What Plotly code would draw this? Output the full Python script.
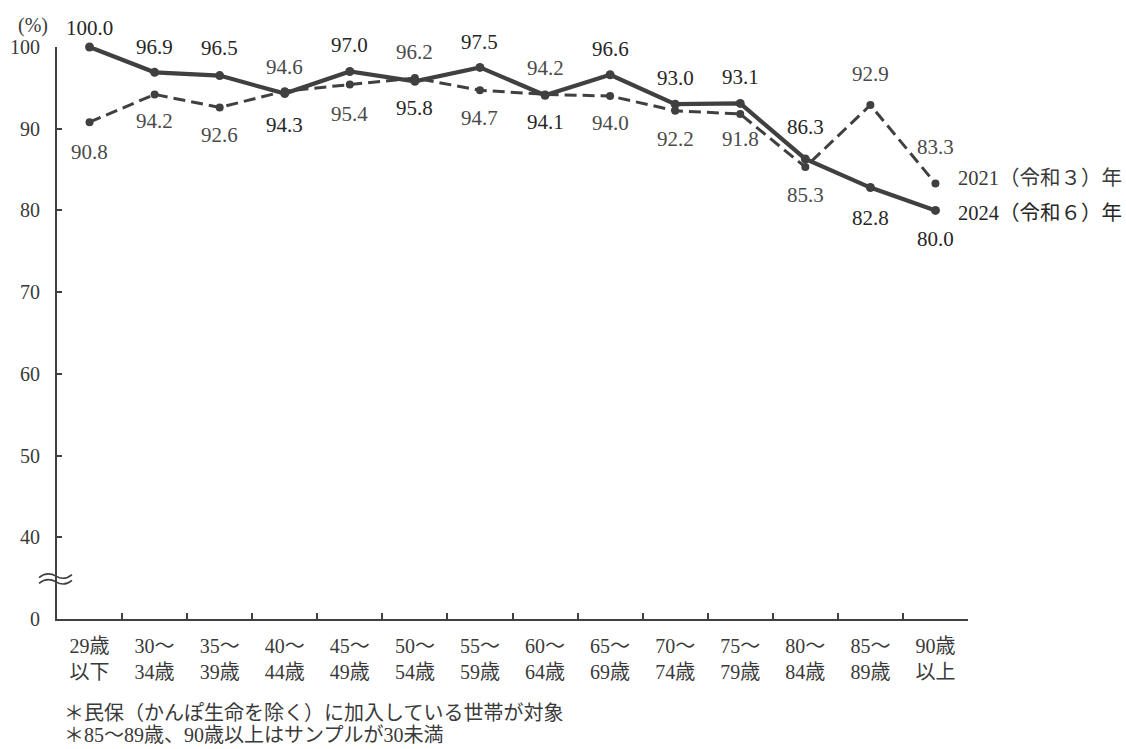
import plotly.graph_objects as go

# Age groups (x categories) and rates (%) for the two survey years
age_groups = [
    "29歳<br>以下", "30～<br>34歳", "35～<br>39歳", "40～<br>44歳", "45～<br>49歳",
    "50～<br>54歳", "55～<br>59歳", "60～<br>64歳", "65～<br>69歳", "70～<br>74歳",
    "75～<br>79歳", "80～<br>84歳", "85～<br>89歳", "90歳<br>以上",
]
rate_2024 = [100.0, 96.9, 96.5, 94.3, 97.0, 95.8, 97.5, 94.1, 96.6, 93.0, 93.1, 86.3, 82.8, 80.0]
rate_2021 = [90.8, 94.2, 92.6, 94.6, 95.4, 96.2, 94.7, 94.2, 94.0, 92.2, 91.8, 85.3, 92.9, 83.3]

name_2024 = "2024（令和６）年"
name_2021 = "2021（令和３）年"

# The y axis is broken: the lowest tick (drawn at 30) is labelled 0
y_tickvals = [30, 40, 50, 60, 70, 80, 90, 100]
y_ticktext = ["0", "40", "50", "60", "70", "80", "90", "100"]

notes = [
    "＊民保（かんぽ生命を除く）に加入している世帯が対象",
    "＊85～89歳、90歳以上はサンプルが30未満",
]

# label placement: vertical offset in px (positive = above the point)
off_2024 = [19, 25, 28, -31, 27, -27, 25, -27, 26, 26, 26, 32, -30, -29]
off_2021 = [-30, -27, -28, 24, -29, 26, -28, 26, -27, -28, -25, -28, 31, 36]

FONT = "Liberation Serif, Noto Sans CJK JP, serif"
INK = "#404040"
TXT = "#3a3a3a"

fig = go.Figure()

fig.add_trace(go.Scatter(
    x=age_groups, y=rate_2021, name=name_2021, mode="lines+markers",
    line=dict(color=INK, width=3, dash="12px,6px"),
    marker=dict(size=8, color=INK), cliponaxis=False,
))
fig.add_trace(go.Scatter(
    x=age_groups, y=rate_2024, name=name_2024, mode="lines+markers",
    line=dict(color=INK, width=4.2),
    marker=dict(size=9, color=INK), cliponaxis=False,
))

annotations = []
for cat, v, dy in zip(age_groups, rate_2024, off_2024):
    annotations.append(dict(
        x=cat, y=v, text=f"{v:.1f}", showarrow=False, yshift=dy,
        font=dict(family=FONT, size=21, color="#262626"),
    ))
for cat, v, dy in zip(age_groups, rate_2021, off_2021):
    annotations.append(dict(
        x=cat, y=v, text=f"{v:.1f}", showarrow=False, yshift=dy,
        font=dict(family=FONT, size=21, color="#4a4a4a"),
    ))

# series names at the right end of each line
annotations.append(dict(
    x=age_groups[-1], y=rate_2021[-1], text=name_2021, showarrow=False,
    xanchor="left", xshift=21, yshift=5,
    font=dict(family=FONT, size=20.5, color=TXT),
))
annotations.append(dict(
    x=age_groups[-1], y=rate_2024[-1], text=name_2024, showarrow=False,
    xanchor="left", xshift=21, yshift=-3,
    font=dict(family=FONT, size=20.5, color="#262626"),
))

# unit label
annotations.append(dict(
    xref="paper", yref="paper", x=-0.045, y=1.038, text="(%)", showarrow=False,
    xanchor="left", yanchor="middle",
    font=dict(family=FONT, size=20, color=TXT),
))

# footnotes
for i, note in enumerate(notes):
    annotations.append(dict(
        xref="paper", yref="paper", x=0.006, y=-0.164 - i * 0.0385, text=note,
        showarrow=False, xanchor="left", yanchor="middle",
        font=dict(family=FONT, size=20, color=TXT),
    ))

# axis break mark (two small waves across the y axis)
plot_left, plot_w = 57, 911
def px(xp):
    return (xp - plot_left) / plot_w

def wave(yc):
    u = 0.1224  # data units per px on the y axis
    return (f"M {px(39)},{yc - 1.5*u} Q {px(47)},{yc + 5*u} {px(56)},{yc} "
            f"Q {px(64)},{yc - 5*u} {px(72)},{yc + 1.5*u}")

shapes = [
    dict(type="path", xref="paper", yref="y", path=wave(35.25),
         line=dict(color=INK, width=1.6)),
    dict(type="path", xref="paper", yref="y", path=wave(34.55),
         line=dict(color=INK, width=1.6)),
]

fig.update_layout(
    width=1126, height=749,
    margin=dict(l=57, r=158, t=47, b=130, autoexpand=False),
    paper_bgcolor="white", plot_bgcolor="white",
    showlegend=False,
    annotations=annotations, shapes=shapes,
    font=dict(family=FONT, color=TXT),
)
fig.update_xaxes(
    type="category", range=[-0.5, 13.5], automargin=False,
    showline=True, linecolor=INK, linewidth=2,
    ticks="inside", tickson="boundaries", ticklen=6, tickwidth=1.5, tickcolor=INK,
    showgrid=False, zeroline=False,
    tickfont=dict(family=FONT, size=20, color=TXT),
    ticklabelstandoff=8,
)
fig.update_yaxes(
    range=[30, 100], tickvals=y_tickvals, ticktext=y_ticktext, automargin=False,
    showline=True, linecolor=INK, linewidth=2,
    ticks="inside", ticklen=5, tickwidth=1.5, tickcolor=INK,
    showgrid=False, zeroline=False,
    tickfont=dict(family=FONT, size=20, color=TXT),
    ticklabelstandoff=11,
)

fig.write_html("out.html")
